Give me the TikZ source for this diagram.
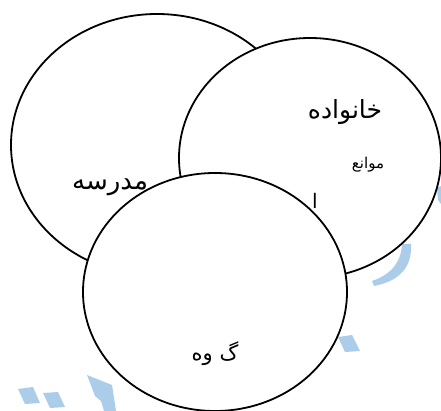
\documentclass[tikz,border=0pt]{standalone}
\usepackage{fontspec}
\usetikzlibrary{shapes.geometric}
\newfontfamily\arabicfont[Script=Arabic]{DejaVu Sans}
\TeXXeTstate=1
\definecolor{wmblue}{RGB}{172,205,234}
\tikzset{
  blob/.style={ellipse, draw=black, line width=1.8pt, fill=white, inner sep=0pt},
  wm/.style={fill=wmblue, draw=none},
  lbl/.style={inner sep=0pt, font=\arabicfont}
}
\begin{document}
\begin{tikzpicture}[x=1pt,y=-1pt]
\useasboundingbox (0,0) rectangle (441,411);
% watermark fragments
\fill[wm] (18,389) -- (33,387) -- (40,403) -- (25,404) -- cycle;
\fill[wm] (43,393) -- (58,392) -- (65,407) -- (50,408) -- cycle;
\fill[wm] (87,375) -- (112,385) -- (116,411) -- (104,411) -- (101,401) -- (95,396) -- cycle;
\fill[wm] (338,337) -- (352,335) -- (360,351) -- (345,352) -- cycle;
\fill[wm] (402,244) -- (411,244) .. controls (412,262) and (405,280) .. (374,286) -- (372,281) .. controls (392,274) and (401,262) .. (402,244) -- cycle;
\fill[wm] (437,188) -- (441,186) -- (441,204) -- (438,200) -- cycle;
% circles
\node[blob, minimum width=292pt, minimum height=262pt] (school) at (157,145) {};
\node[blob, minimum width=262pt, minimum height=240pt] (family) at (310,158) {};
\node[lbl, font=\arabicfont\fontsize{25}{28}\selectfont] (familyt) at (345,112) {\beginR خانواده\endR};
\node[lbl, font=\arabicfont\fontsize{15}{17}\selectfont] (barriers) at (368,165) {\beginR موانع\endR};
\node[lbl, font=\arabicfont\fontsize{20}{22}\selectfont, anchor=north] (alef) at (315,193) {\beginR ا\endR};
\node[blob, minimum width=264pt, minimum height=238pt] (group) at (215,292) {};
\node[lbl, font=\arabicfont\fontsize{26}{28}\selectfont] (schoolt) at (110,187) {\beginR مدرسه\endR};
\node[lbl, font=\arabicfont\fontsize{21}{24}\selectfont] (groupt) at (215,354) {\beginR گ وه\endR};
\end{tikzpicture}
\end{document}
